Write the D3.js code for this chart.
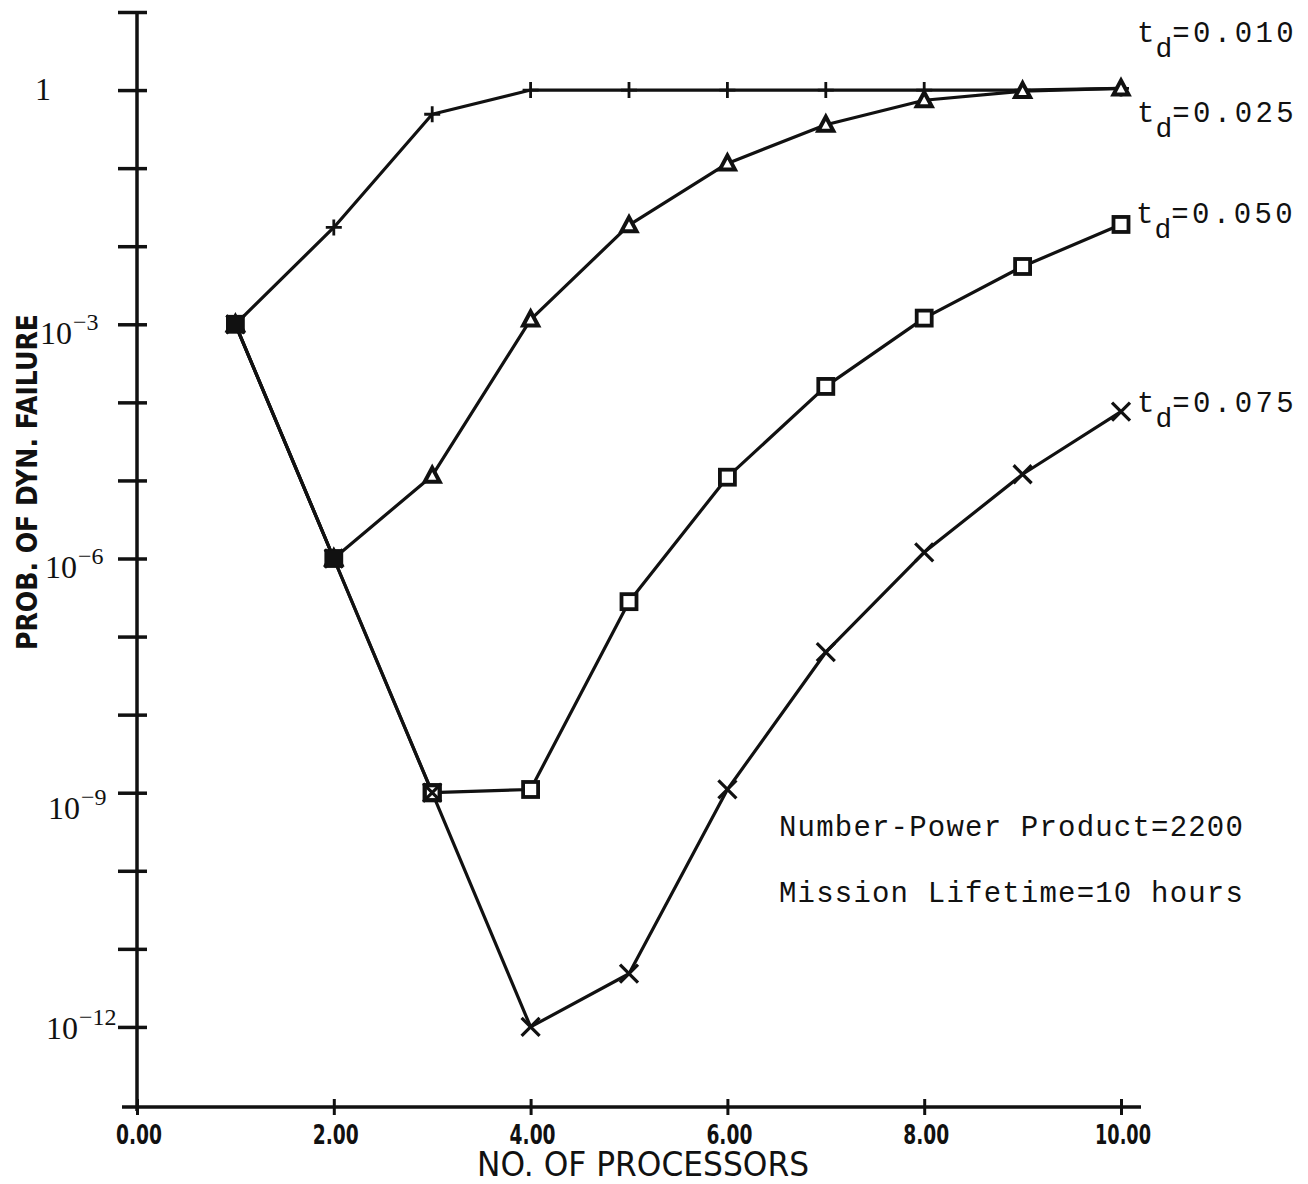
<!DOCTYPE html>
<html>
<head>
<meta charset="utf-8">
<script src="https://cdn.jsdelivr.net/npm/d3@7"></script>
<style>
  html, body { margin: 0; padding: 0; background: #fff; }
  svg { display: block; }
</style>
</head>
<body>
<svg id="chart" width="1308" height="1184"></svg>
<script>
// ---------------- DATA ----------------
const processors = [1, 2, 3, 4, 5, 6, 7, 8, 9, 10];
const td010 = [1e-3, 1.74e-2, 0.49, 1, 1, 1, 1, 1, 1, 1.05];
const td025 = [1e-3, 1e-6, 1.15e-5, 1.15e-3, 1.86e-2, 0.115, 0.36, 0.74, 0.97, 1.05];
const td050 = [1e-3, 1e-6, 1e-9, 1.1e-9, 2.8e-7, 1.1e-5, 1.6e-4, 1.2e-3, 5.5e-3, 1.9e-2];
const td075 = [1e-3, 1e-6, 1e-9, 1e-12, 4.8e-12, 1.1e-9, 6.3e-8, 1.2e-6, 1.2e-5, 7.6e-5];
const seriesNames = ["0.010", "0.025", "0.050", "0.075"];
const xTickValues = [0, 2, 4, 6, 8, 10];
const xTickLabels = ["0.00", "2.00", "4.00", "6.00", "8.00", "10.00"];
const yMajorTicks = [1, 1e-3, 1e-6, 1e-9, 1e-12];
const yMajorExps = ["", "−3", "−6", "−9", "−12"];
const xTitle = "NO. OF PROCESSORS";
const yTitle = "PROB. OF DYN. FAILURE";
const notes = ["Number-Power Product=2200", "Mission Lifetime=10 hours"];

// ---------------- SCALES ----------------
const svg = d3.select("#chart");
svg.append("rect").attr("width", 1308).attr("height", 1184).attr("fill", "#fff");

const x = d3.scaleLinear().domain([0, 10]).range([137, 1121]);
const y = d3.scaleLog().domain([1e-13, 10]).range([1105, 12]);
const axisX0 = 137;

const ink = "#111";

// ---------------- AXES ----------------
const decades = d3.range(1, -13, -1).map(e => Math.pow(10, e));
const yAxis = d3.axisLeft(y).tickValues(decades).tickSize(20).tickFormat("");
const gy = svg.append("g").attr("transform", `translate(${axisX0},0)`).call(yAxis);
gy.select(".domain").remove();
gy.selectAll(".tick line").attr("x1", 10).attr("x2", -19)
  .attr("stroke", ink).attr("stroke-width", 3.5);
svg.append("line").attr("x1", axisX0).attr("x2", axisX0)
  .attr("y1", y(10)).attr("y2", y(1e-13) + 6)
  .attr("stroke", ink).attr("stroke-width", 3.5);

const xAxis = d3.axisBottom(x).tickValues(xTickValues).tickSize(8).tickFormat("");
const gx = svg.append("g").attr("transform", `translate(0,${y(1e-13) + 2})`).call(xAxis);
gx.select(".domain").remove();
gx.selectAll(".tick line").attr("y1", -8).attr("y2", 8)
  .attr("stroke", ink).attr("stroke-width", 3);
svg.append("line").attr("x1", x(0) - 15).attr("x2", x(10) + 20)
  .attr("y1", y(1e-13) + 2).attr("y2", y(1e-13) + 2)
  .attr("stroke", ink).attr("stroke-width", 3.5);

svg.append("g").selectAll("text").data(xTickValues).join("text")
  .attr("x", d => x(d) + 2)
  .attr("y", 1144)
  .attr("text-anchor", "middle")
  .attr("font-family", "'DejaVu Sans', sans-serif")
  .attr("font-weight", "bold")
  .attr("font-size", 27)
  .attr("textLength", (d, i) => xTickLabels[i].length === 5 ? 56 : 46)
  .attr("lengthAdjust", "spacingAndGlyphs")
  .attr("fill", ink)
  .text((d, i) => xTickLabels[i]);

svg.append("text")
  .attr("x", 643).attr("y", 1176)
  .attr("text-anchor", "middle")
  .attr("font-family", "'DejaVu Sans', sans-serif")
  .attr("font-size", 34)
  .attr("textLength", 332)
  .attr("lengthAdjust", "spacingAndGlyphs")
  .attr("fill", ink)
  .text(xTitle);

svg.append("text")
  .attr("transform", "translate(37,482) rotate(-90)")
  .attr("text-anchor", "middle")
  .attr("font-family", "'DejaVu Sans', sans-serif")
  .attr("font-weight", "bold")
  .attr("font-size", 29)
  .attr("textLength", 336)
  .attr("lengthAdjust", "spacingAndGlyphs")
  .attr("fill", ink)
  .text(yTitle);

const yLabelDy = [10, 20, 19, 26, 12];
const yLabelX = [35, 40, 45, 48, 46];
const yl = svg.append("g").selectAll("text").data(yMajorTicks).join("text")
  .attr("x", (d, i) => yLabelX[i])
  .attr("y", (d, i) => y(d) + yLabelDy[i])
  .attr("font-family", "'Liberation Serif', 'Times New Roman', serif")
  .attr("font-size", 32)
  .attr("fill", ink);
yl.each(function (d, i) {
  const t = d3.select(this);
  if (i === 0) { t.text("1"); return; }
  t.append("tspan").text("10");
  t.append("tspan").attr("dx", 1).attr("dy", -14).attr("font-size", 24).text(yMajorExps[i]);
});

// ---------------- SERIES ----------------
const allSeries = [td010, td025, td050, td075];
const line = d3.line().x((d, i) => x(processors[i])).y(d => y(d));

allSeries.forEach(vals => {
  svg.append("path").datum(vals)
    .attr("d", line)
    .attr("fill", "none")
    .attr("stroke", ink)
    .attr("stroke-width", 3.2)
    .attr("stroke-linejoin", "round");
});

const markerGroup = svg.append("g").attr("stroke", ink).attr("fill", "none");

markerGroup.append("g").selectAll("path").data(td010).join("path")
  .attr("transform", (d, i) => `translate(${x(processors[i])},${y(d)})`)
  .attr("d", "M-8,0H8M0,-8V8")
  .attr("stroke-width", 2.8);

markerGroup.append("g").selectAll("path").data(td025).join("path")
  .attr("transform", (d, i) => `translate(${x(processors[i])},${y(d)})`)
  .attr("d", "M0,-8L7.5,6H-7.5Z")
  .attr("stroke-width", 4)
  .attr("fill", "#fff");

markerGroup.append("g").selectAll("rect").data(td050).join("rect")
  .attr("x", (d, i) => x(processors[i]) - 7.5)
  .attr("y", d => y(d) - 7.5)
  .attr("width", 15).attr("height", 15)
  .attr("stroke-width", 3.8)
  .attr("fill", "#fff");

markerGroup.append("g").selectAll("path").data(td075).join("path")
  .attr("transform", (d, i) => `translate(${x(processors[i])},${y(d)})`)
  .attr("d", "M-9,-9L9,9M-9,9L9,-9")
  .attr("stroke-width", 3.2);

const shared = [[processors[0], td010[0]], [processors[1], td025[1]]];
svg.append("g").selectAll("rect").data(shared).join("rect")
  .attr("x", d => x(d[0]) - 8).attr("y", d => y(d[1]) - 8)
  .attr("width", 16).attr("height", 16).attr("fill", ink);
svg.append("rect")
  .attr("x", x(processors[2]) - 7.5).attr("y", y(td050[2]) - 7.5)
  .attr("width", 15).attr("height", 15)
  .attr("fill", "none").attr("stroke", ink).attr("stroke-width", 4);

// ---------------- LABELS ----------------
const labelPos = [[1137, 42], [1137, 122], [1136, 223], [1137, 412]];
const lab = svg.append("g").selectAll("text").data(seriesNames).join("text")
  .attr("x", (d, i) => labelPos[i][0])
  .attr("y", (d, i) => labelPos[i][1])
  .attr("font-family", "'Liberation Mono', 'Courier New', monospace")
  .attr("font-size", 29)
  .attr("fill", ink);
lab.each(function (d) {
  const t = d3.select(this);
  t.append("tspan").text("t");
  t.append("tspan").attr("dx", 1).attr("dy", 15).attr("font-size", 28).text("d");
  t.append("tspan").attr("dy", -15).attr("letter-spacing", 3.4).text("=" + d);
});

svg.append("g").selectAll("text").data(notes).join("text")
  .attr("x", 779)
  .attr("y", (d, i) => 836 + i * 66)
  .attr("font-family", "'Liberation Mono', 'Courier New', monospace")
  .attr("font-size", 29)
  .attr("letter-spacing", 1.2)
  .attr("fill", ink)
  .text(d => d);
</script>
</body>
</html>
